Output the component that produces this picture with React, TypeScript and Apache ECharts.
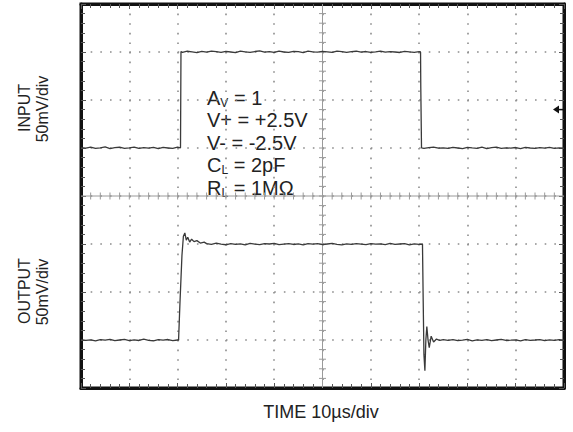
import React, { useEffect, useRef } from "react";
import * as echarts from "echarts";

// Time axis in µs (10 µs/div), voltage axis in mV (50 mV/div)
const X_MIN = -50;
const X_MAX = 50;
const X_DIV = 10;
const Y_MIN = -200;
const Y_MAX = 200;
const Y_DIV = 50;
const TRIGGER_LEVEL = 90;

const inputTrace: [number, number][] = [
  [-50, 50.5], [-49, 49.8], [-48, 50.9], [-47, 49.6], [-46, 50.2], [-45, 51.1], [-44, 49.4], [-43, 50.3],
  [-42, 50.8], [-41, 49.7], [-40, 50.1], [-39, 51.0], [-38, 49.5], [-37, 50.4], [-36, 49.9], [-35, 50.7],
  [-34, 49.3], [-33, 50.6], [-32, 50.0], [-31, 49.6], [-30, 50.8], [-29.4, 50.2], [-29.3, 150.5],
  [-29, 149.6], [-28, 150.8], [-27, 150.1], [-26, 149.4], [-25, 150.6], [-24, 149.9], [-23, 151.0],
  [-22, 150.3], [-21, 149.5], [-20, 150.7], [-19, 150.0], [-18, 149.3], [-17, 150.9], [-16, 150.2],
  [-15, 149.7], [-14, 150.5], [-13, 151.1], [-12, 149.8], [-11, 150.4], [-10, 149.5], [-9, 150.8],
  [-8, 150.0], [-7, 149.6], [-6, 150.7], [-5, 150.3], [-4, 149.4], [-3, 150.9], [-2, 150.1], [-1, 149.8],
  [0, 150.6], [1, 150.2], [2, 149.5], [3, 151.0], [4, 150.4], [5, 149.7], [6, 150.3], [7, 150.8],
  [8, 149.9], [9, 150.5], [10, 149.6], [11, 150.2], [12, 151.0], [13, 149.8], [14, 150.4], [15, 150.0],
  [16, 149.5], [17, 150.7], [18, 150.1], [19, 149.7], [20, 150.3], [20.3, 150], [20.35, 113],
  [20.45, 113], [20.5, 50.2], [21, 49.6], [22, 50.4], [23, 50.9], [24, 49.8], [25, 50.2], [26, 49.5],
  [27, 50.7], [28, 50.0], [29, 49.4], [30, 50.6], [31, 50.1], [32, 49.7], [33, 50.8], [34, 49.3],
  [35, 50.3], [36, 50.9], [37, 49.6], [38, 50.2], [39, 49.9], [40, 50.5], [41, 49.4], [42, 50.7],
  [43, 50.0], [44, 49.6], [45, 50.4], [46, 49.8], [47, 50.6], [48, 49.5], [49, 50.2], [50, 49.9],
];

const outputTrace: [number, number][] = [
  [-50, -149.6], [-49, -150.4], [-48, -149.8], [-47, -150.9], [-46, -149.5], [-45, -150.2], [-44, -149.3],
  [-43, -150.6], [-42, -150.0], [-41, -149.4], [-40, -150.7], [-39, -149.9], [-38, -150.5], [-37, -149.2],
  [-36, -150.3], [-35, -150.8], [-34, -149.7], [-33, -150.1], [-32, -149.5], [-31, -150.6], [-30, -150.0],
  [-29.8, -150], [-29.5, -110], [-29.1, -62], [-28.8, -42], [-28.5, -38.5], [-28.2, -46], [-27.9, -43],
  [-27.5, -48], [-27.1, -45], [-26.6, -47.5], [-26, -46.5], [-25.3, -49], [-24.5, -48], [-24, -49.6],
  [-23, -50.4], [-22, -49.2], [-21, -50.1], [-20, -50.8], [-19, -49.5], [-18, -50.3], [-17, -49.8],
  [-16, -50.9], [-15, -49.4], [-14, -50.2], [-13, -50.6], [-12, -49.7], [-11, -50.0], [-10, -49.3],
  [-9, -50.7], [-8, -50.1], [-7, -49.6], [-6, -50.5], [-5, -49.9], [-4, -50.8], [-3, -49.5], [-2, -50.2],
  [-1, -49.7], [0, -50.6], [1, -50.0], [2, -49.4], [3, -50.3], [4, -50.9], [5, -49.8], [6, -50.4],
  [7, -49.6], [8, -50.1], [9, -50.7], [10, -49.5], [11, -50.2], [12, -49.9], [13, -50.6], [14, -49.3],
  [15, -50.4], [16, -50.0], [17, -49.6], [18, -50.8], [19, -49.9], [20, -50.3], [20.7, -50],
  [20.85, -110], [21.0, -165], [21.2, -182], [21.4, -150], [21.6, -136], [21.85, -150], [22.1, -158],
  [22.5, -146], [23.0, -152], [23.6, -149], [24.3, -150.5], [25, -149.7], [26, -150.4], [27, -149.5],
  [28, -150.6], [29, -150.1], [30, -149.4], [31, -150.8], [32, -149.9], [33, -150.3], [34, -149.6],
  [35, -150.7], [36, -150.0], [37, -149.3], [38, -150.5], [39, -150.2], [40, -149.8], [41, -150.9],
  [42, -149.5], [43, -150.3], [44, -150.0], [45, -149.6], [46, -150.6], [47, -149.9], [48, -150.4],
  [49, -149.7], [50, -150.2],
];

const yTitles = ["INPUT", "OUTPUT"];
const yUnits = ["50mV/div", "50mV/div"];
const xTitle = "TIME 10µs/div";

const conditions: string[] = [
  "{m|A}{s|V}{m| = 1}",
  "{m|V+ = +2.5V}",
  "{m|V- = -2.5V}",
  "{m|C}{s|L}{m| = 2pF}",
  "{m|R}{s|L}{m| = 1MΩ}",
];

const FONT = '"Liberation Sans", Arial, sans-serif';

const App: React.FC = () => {
  const ref = useRef<HTMLDivElement>(null);

  useEffect(() => {
    if (!ref.current) return;
    const chart = echarts.init(ref.current, undefined, { renderer: "svg" });

    const gridLeft = 81;
    const gridTop = 4;
    const gridW = 483;
    const gridH = 384;
    const labelCenters = [108, 291];

    const tickStyle = { color: "#555", width: 1 };
    const makeX = (position: "bottom" | "top", split: boolean) => ({
      type: "value",
      min: X_MIN,
      max: X_MAX,
      interval: X_DIV,
      position,
      axisLine: { show: true, onZero: false, lineStyle: { color: "#111", width: 3 } },
      axisTick: { show: true, inside: true, length: 5, lineStyle: tickStyle },
      minorTick: { show: true, splitNumber: 5, length: 4, lineStyle: tickStyle },
      axisLabel: { show: false },
      splitLine: {
        show: split,
        lineStyle: { color: "#8c8c8c", width: 1.6, type: [1.6, 8.0] },
      },
    });
    const makeY = (position: "left" | "right", split: boolean) => ({
      type: "value",
      min: Y_MIN,
      max: Y_MAX,
      interval: Y_DIV,
      position,
      axisLine: { show: true, onZero: false, lineStyle: { color: "#111", width: 3 } },
      axisTick: { show: true, inside: true, length: 5, lineStyle: tickStyle },
      minorTick: { show: true, splitNumber: 5, length: 4, lineStyle: tickStyle },
      axisLabel: { show: false },
      splitLine: {
        show: split,
        lineStyle: { color: "#8c8c8c", width: 1.6, type: [1.6, 8.06] },
      },
    });

    const graphics: any[] = [];
    yTitles.forEach((title, i) => {
      const cy = labelCenters[i];
      graphics.push({
        type: "text",
        x: 24,
        y: cy,
        rotation: Math.PI / 2,
        style: { text: title, align: "center", verticalAlign: "middle", font: `16px ${FONT}`, fill: "#222" },
      });
      graphics.push({
        type: "text",
        x: 42,
        y: cy + 1,
        rotation: Math.PI / 2,
        style: { text: yUnits[i], align: "center", verticalAlign: "middle", font: `16px ${FONT}`, fill: "#222" },
      });
    });
    graphics.push({
      type: "text",
      x: 321,
      y: 412,
      style: { text: xTitle, align: "center", verticalAlign: "middle", font: `18px ${FONT}`, fill: "#222" },
    });
    conditions.forEach((t, i) => {
      graphics.push({
        type: "text",
        x: 207,
        y: 98 + i * 22.4,
        style: {
          text: t,
          align: "left",
          verticalAlign: "middle",
          rich: {
            m: { font: `20px ${FONT}`, fill: "#222", lineHeight: 22, verticalAlign: "middle" },
            s: { font: `12px ${FONT}`, fill: "#222", lineHeight: 22, verticalAlign: "bottom", padding: [10, 0, 0, 0] },
          },
        },
      });
    });

    const option: any = {
      animation: false,
      backgroundColor: "#fff",
      grid: {
        left: gridLeft,
        top: gridTop,
        width: gridW,
        height: gridH,
        show: true,
        borderColor: "#111",
        borderWidth: 3,
        backgroundColor: "transparent",
      },
      xAxis: [makeX("bottom", true), makeX("top", false)],
      yAxis: [makeY("left", true), makeY("right", false)],
      graphic: graphics,
      series: [
        {
          type: "custom",
          xAxisIndex: 0,
          yAxisIndex: 0,
          silent: true,
          z: 1,
          data: [[0, 0]],
          renderItem: (_params: any, api: any) => {
            const children: any[] = [];
            const l = api.coord([X_MIN, 0]);
            const r = api.coord([X_MAX, 0]);
            const t = api.coord([0, Y_MAX]);
            const b = api.coord([0, Y_MIN]);
            const lineStyle = { stroke: "#9a9a9a", lineWidth: 1 };
            children.push({ type: "line", shape: { x1: l[0], y1: l[1], x2: r[0], y2: r[1] }, style: lineStyle });
            children.push({ type: "line", shape: { x1: t[0], y1: t[1], x2: b[0], y2: b[1] }, style: lineStyle });
            const xStep = X_DIV / 5;
            for (let v = X_MIN + xStep; v < X_MAX; v += xStep) {
              const p = api.coord([v, 0]);
              children.push({ type: "line", shape: { x1: p[0], y1: p[1] - 3.5, x2: p[0], y2: p[1] + 3.5 }, style: lineStyle });
            }
            const yStep = Y_DIV / 5;
            for (let v = Y_MIN + yStep; v < Y_MAX; v += yStep) {
              const p = api.coord([0, v]);
              children.push({ type: "line", shape: { x1: p[0] - 3.5, y1: p[1], x2: p[0] + 3.5, y2: p[1] }, style: lineStyle });
            }
            // trigger level marker at right edge
            const m = api.coord([X_MAX, TRIGGER_LEVEL]);
            children.push({
              type: "polygon",
              shape: { points: [[m[0] - 11, m[1]], [m[0] - 5, m[1] - 4], [m[0] - 5, m[1] + 4]] },
              style: { fill: "#111" },
            });
            children.push({ type: "line", shape: { x1: m[0] - 6, y1: m[1], x2: m[0], y2: m[1] }, style: { stroke: "#111", lineWidth: 1.5 } });
            return { type: "group", children };
          },
        },
        {
          type: "line",
          data: inputTrace,
          showSymbol: false,
          z: 3,
          lineStyle: { color: "#3a3a3a", width: 1.3 },
          silent: true,
        },
        {
          type: "line",
          data: outputTrace,
          showSymbol: false,
          z: 3,
          lineStyle: { color: "#3a3a3a", width: 1.3 },
          silent: true,
        },
      ],
    };
    chart.setOption(option);
    return () => chart.dispose();
  }, []);

  return (
    <div
      ref={ref}
      style={{ position: "absolute", left: 0, top: 0, width: 573, height: 432, background: "#fff" }}
    />
  );
};

export default App;
